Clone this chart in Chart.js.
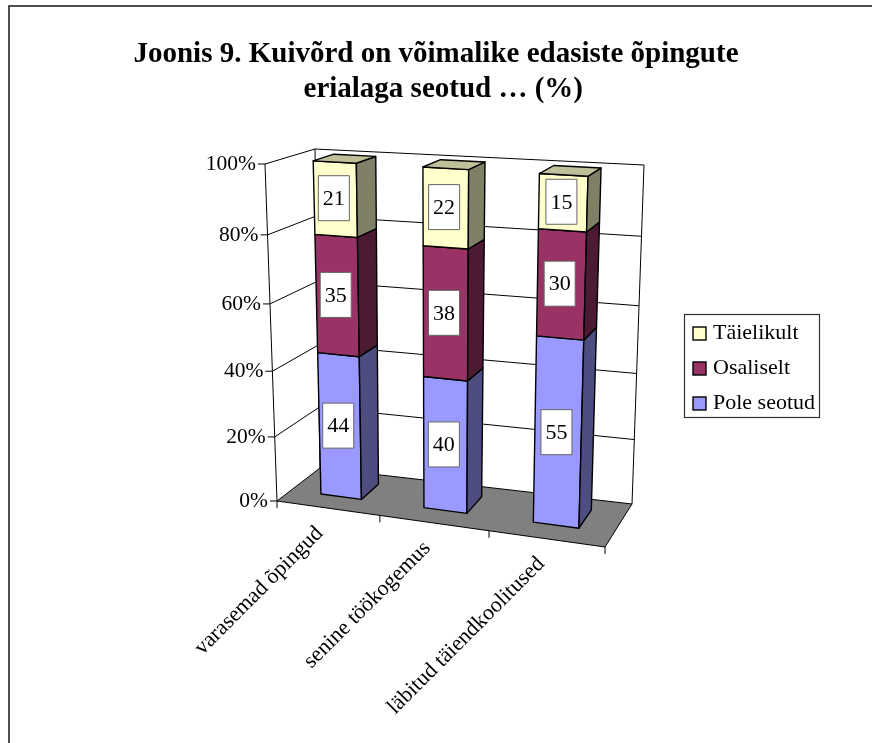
<!DOCTYPE html>
<html>
<head>
<meta charset="utf-8">
<style>
  html, body { margin: 0; background: #fff; }
  canvas { display: block; }
</style>
</head>
<body>
<canvas id="chart" width="872" height="743"></canvas>
<script src="https://cdn.jsdelivr.net/npm/chart.js@4"></script>
<script>
const categories = ["varasemad õpingud", "senine töökogemus", "läbitud täiendkoolitused"];
const poleSeotud = [44, 40, 55];
const osaliselt = [35, 38, 30];
const taielikult = [21, 22, 15];
const yTicks = [0, 20, 40, 60, 80, 100];
const yTickLabels = ["0%", "20%", "40%", "60%", "80%", "100%"];

const FONT = '"Liberation Serif", "Times New Roman", serif';

// corners of the 3d box on screen
const BOX = {
  frontLeftBottom: [277, 501], frontLeftTop: [265, 164],
  frontRightBottom: [605, 547], frontRightTop: [616, 185],
  backLeftBottom: [320, 468], backLeftTop: [315, 149],
  backRightBottom: [632, 504], backRightTop: [644, 165]
};
const BAR_FRONT = 0.33, BAR_BACK = 0.76;

function warp(t, k) {
  return t / (t + (1 - t) * k);
}
function mix(a, b, t) {
  return [a[0] + (b[0] - a[0]) * t, a[1] + (b[1] - a[1]) * t];
}
// u along categories, v along values, w into the depth, all 0..1
function project(u, v, w) {
  const tu = warp(u, 1.094), tv = warp(v, 1.065);
  const bottom = mix(
    mix(BOX.frontLeftBottom, BOX.frontRightBottom, tu),
    mix(BOX.backLeftBottom, BOX.backRightBottom, tu), w);
  const top = mix(
    mix(BOX.frontLeftTop, BOX.frontRightTop, tu),
    mix(BOX.backLeftTop, BOX.backRightTop, tu), w);
  return mix(bottom, top, tv);
}

function poly(ctx, pts, fill) {
  ctx.beginPath();
  pts.forEach((p, i) => i ? ctx.lineTo(p[0], p[1]) : ctx.moveTo(p[0], p[1]));
  ctx.closePath();
  if (fill) {
    ctx.fillStyle = fill;
    ctx.fill();
  }
  ctx.stroke();
}
function line(ctx, a, b) {
  ctx.beginPath();
  ctx.moveTo(a[0], a[1]);
  ctx.lineTo(b[0], b[1]);
  ctx.stroke();
}

// the outer frame runs off the right and bottom of the picture
const frame = {
  id: "frame",
  beforeDraw(chart) {
    const ctx = chart.ctx;
    ctx.save();
    ctx.strokeStyle = "#222";
    ctx.lineWidth = 1.6;
    ctx.strokeRect(9, 6, 1000, 1000);
    ctx.restore();
  }
};

const walls = {
  id: "walls",
  beforeDatasetsDraw(chart) {
    const ctx = chart.ctx, y = chart.scales.y, area = chart.chartArea;
    ctx.save();
    ctx.strokeStyle = "#000";
    ctx.lineWidth = 1;

    poly(ctx, [project(0, 0, 0), project(1, 0, 0), project(1, 0, 1), project(0, 0, 1)], "#808080");
    line(ctx, project(0, 0, 0), project(0, 1, 0));
    line(ctx, project(0, 0, 1), project(0, 1, 1));
    line(ctx, project(1, 0, 1), project(1, 1, 1));

    ctx.font = "21.5px " + FONT;
    ctx.fillStyle = "#000";
    ctx.textAlign = "right";
    ctx.textBaseline = "middle";
    yTicks.forEach((tick, i) => {
      const v = (area.bottom - y.getPixelForValue(tick)) / area.height;
      const front = project(0, v, 0);
      if (tick > 0) {
        line(ctx, front, project(0, v, 1));
        line(ctx, project(0, v, 1), project(1, v, 1));
      }
      line(ctx, [front[0] - 7, front[1]], front);
      ctx.fillText(yTickLabels[i], front[0] - 9, front[1]);
    });

    // ticks below the floor edge, between the categories
    for (let i = 0; i <= categories.length; i++) {
      const p = project(i / categories.length, 0, 0);
      line(ctx, p, [p[0], p[1] + 7]);
    }

    ctx.font = "22px " + FONT;
    categories.forEach((name, i) => {
      const px = chart.scales.x.getPixelForValue(i);
      const p = project((px - area.left) / area.width, 0, 0);
      ctx.save();
      ctx.translate(p[0] - 8 + i * 1.5, p[1] + 22);
      ctx.rotate(-Math.PI / 4);
      ctx.fillText(name, 0, 0);
      ctx.restore();
    });
    ctx.restore();
  }
};

const bars3d = {
  id: "bars3d",
  beforeDatasetsDraw(chart) {
    const ctx = chart.ctx, area = chart.chartArea;
    const norm = el => ({
      u0: (el.x - el.width / 2 - area.left) / area.width,
      u1: (el.x + el.width / 2 - area.left) / area.width,
      v0: (area.bottom - el.base) / area.height,
      v1: (area.bottom - el.y) / area.height
    });
    ctx.save();
    ctx.strokeStyle = "#000";
    ctx.lineWidth = 1.4;
    ctx.lineJoin = "round";
    chart.data.datasets.forEach((ds, d) => {
      chart.getDatasetMeta(d).data.forEach(el => {
        const b = norm(el);
        poly(ctx, [project(b.u0, b.v0, BAR_FRONT), project(b.u1, b.v0, BAR_FRONT),
          project(b.u1, b.v1, BAR_FRONT), project(b.u0, b.v1, BAR_FRONT)], ds.backgroundColor);
        poly(ctx, [project(b.u1, b.v0, BAR_FRONT), project(b.u1, b.v0, BAR_BACK),
          project(b.u1, b.v1, BAR_BACK), project(b.u1, b.v1, BAR_FRONT)], ds.sideColor);
        if (d === chart.data.datasets.length - 1) {
          poly(ctx, [project(b.u0, b.v1, BAR_FRONT), project(b.u1, b.v1, BAR_FRONT),
            project(b.u1, b.v1, BAR_BACK), project(b.u0, b.v1, BAR_BACK)], ds.topColor);
        }
      });
    });

    // value boxes go on last so nothing covers them
    ctx.font = "22px " + FONT;
    ctx.textAlign = "center";
    ctx.textBaseline = "middle";
    chart.data.datasets.forEach((ds, d) => {
      chart.getDatasetMeta(d).data.forEach((el, i) => {
        const b = norm(el);
        const c = project((b.u0 + b.u1) / 2, (b.v0 + b.v1) / 2, BAR_FRONT);
        const cx = c[0] - 1.5, cy = c[1] - 1;
        ctx.fillStyle = "#fff";
        ctx.strokeStyle = "#666";
        ctx.lineWidth = 1;
        ctx.fillRect(cx - 15.5, cy - 22.5, 31, 45);
        ctx.strokeRect(cx - 15.5, cy - 22.5, 31, 45);
        ctx.fillStyle = "#000";
        ctx.fillText(ds.data[i], cx, cy + 1);
      });
    });
    ctx.restore();
    return false;
  }
};

const legendBox = {
  id: "legendBox",
  afterDraw(chart) {
    const ctx = chart.ctx;
    const rows = chart.data.datasets.slice().reverse();
    ctx.save();
    ctx.strokeStyle = "#333";
    ctx.lineWidth = 1.2;
    ctx.strokeRect(684.5, 314.5, 135, 103);
    ctx.font = "22px " + FONT;
    ctx.textAlign = "left";
    ctx.textBaseline = "middle";
    rows.forEach((ds, i) => {
      const cy = 333.5 + i * 35;
      ctx.fillStyle = ds.backgroundColor;
      ctx.strokeStyle = "#000";
      ctx.lineWidth = 1.4;
      ctx.fillRect(693, cy - 6.5, 13, 13);
      ctx.strokeRect(693, cy - 6.5, 13, 13);
      ctx.fillStyle = "#000";
      ctx.fillText(ds.label, 713, cy);
    });
    ctx.restore();
  }
};

new Chart(document.getElementById("chart"), {
  type: "bar",
  data: {
    labels: categories,
    datasets: [
      { label: "Pole seotud", data: poleSeotud, backgroundColor: "#9999FF", sideColor: "#4D4D80", topColor: "#7373BF" },
      { label: "Osaliselt", data: osaliselt, backgroundColor: "#993366", sideColor: "#4D1A33", topColor: "#73264D" },
      { label: "Täielikult", data: taielikult, backgroundColor: "#FFFFCC", sideColor: "#808066", topColor: "#BFBF99" }
    ]
  },
  options: {
    responsive: false,
    animation: false,
    devicePixelRatio: 1,
    categoryPercentage: 1,
    barPercentage: 0.4,
    scales: {
      x: { stacked: true, display: false },
      y: { stacked: true, display: false, min: 0, max: 100, ticks: { stepSize: 20 } }
    },
    plugins: {
      legend: { display: false },
      tooltip: { enabled: false },
      title: {
        display: true,
        // the second line sits a little right of centre in the original
        text: ["Joonis 9. Kuivõrd on võimalike edasiste õpingute", "\u00A0\u00A0erialaga seotud … (%)"],
        color: "#000",
        font: { family: FONT, size: 29, weight: "bold", lineHeight: 1.207 },
        padding: { top: 37, bottom: 10 }
      }
    }
  },
  plugins: [frame, walls, bars3d, legendBox]
});
</script>
</body>
</html>
